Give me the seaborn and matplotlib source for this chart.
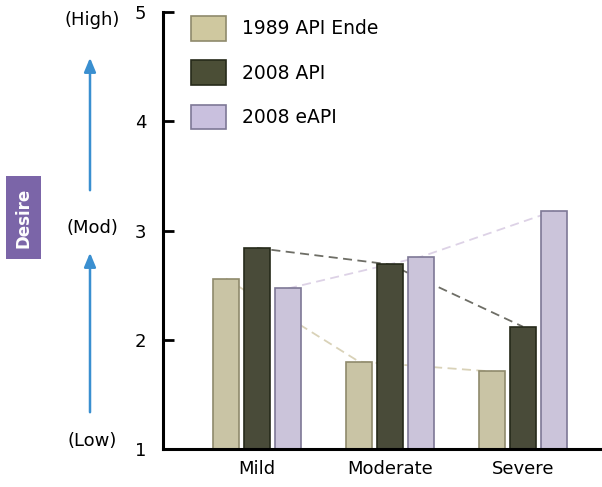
import matplotlib
matplotlib.use("Agg")
import matplotlib.pyplot as plt
from matplotlib.patches import FancyArrowPatch, Rectangle
import seaborn as sns
import pandas as pd

severity = ["Mild", "Moderate", "Severe"]
series = ["1989 API Ende", "2008 API", "2008 eAPI"]
api_1989 = [2.56, 1.80, 1.71]
api_2008 = [2.84, 2.69, 2.12]
eapi_2008 = [2.47, 2.76, 3.18]
y_ticks = [1, 2, 3, 4, 5]
level_labels = ["(Low)", "(Mod)", "(High)"]

bar_colors = ["#cfc89f", "#4b4e36", "#c9c0de"]
edge_colors = ["#8f8a6c", "#262a1a", "#7e7896"]
line_colors = ["#d9d2b8", "#6e6e66", "#ddd2e6"]

df = pd.DataFrame({
    "Severity": severity * 3,
    "Series": [s for s in series for _ in severity],
    "Desire": api_1989 + api_2008 + eapi_2008,
})

sns.set_style("white")
plt.rcParams["font.family"] = ["DejaVu Sans"]
plt.rcParams["text.color"] = "black"
plt.rcParams["xtick.color"] = "black"
plt.rcParams["ytick.color"] = "black"

fig = plt.figure(figsize=(6.02, 4.87), dpi=100)
ax = fig.add_axes([0.2708, 0.078, 0.726, 0.897])

sns.barplot(data=df, x="Severity", y="Desire", hue="Series",
            order=severity, hue_order=series, palette=bar_colors,
            width=0.70, gap=0.16, ax=ax, legend=False, zorder=2)

# outline each bar in a darker shade of its fill and link the tops of each series
for i, cont in enumerate(ax.containers):
    xs, ys = [], []
    for p in cont.patches:
        p.set_edgecolor(edge_colors[i])
        p.set_linewidth(1.2)
        xs.append(p.get_x() + p.get_width() / 2)
        ys.append(p.get_height())
    ax.plot(xs, ys, ls=(0, (5, 3)), color=line_colors[i], lw=1.3, zorder=1)

ax.set_ylim(1, 5)
ax.set_xlim(-0.707, 2.58)
ax.set_yticks(y_ticks)
ax.set_yticklabels([str(t) for t in y_ticks], fontsize=13)
ax.tick_params(axis="y", direction="in", length=8, width=2, pad=12, left=True)
ax.tick_params(axis="x", length=0, labelsize=13, pad=8)
ax.set_xlabel("")
ax.set_ylabel("")
for side in ["top", "right"]:
    ax.spines[side].set_visible(False)
for side in ["left", "bottom"]:
    ax.spines[side].set_linewidth(2.2)
    ax.spines[side].set_color("black")

handles = [Rectangle((0, 0), 1, 1, facecolor=c, edgecolor=e, lw=1.2)
           for c, e in zip(bar_colors, edge_colors)]
ax.legend(handles, series, loc="upper left", bbox_to_anchor=(0.025, 1.03),
          frameon=False, fontsize=13.5, handlelength=1.85, handleheight=1.65,
          labelspacing=1.05, handletextpad=0.9)

# qualitative level labels beside the numeric axis
for lab, ypx in zip(level_labels, [441, 228, 20]):
    fig.text(92 / 602, 1 - ypx / 487, lab, ha="center", va="center", fontsize=13)

arrow_x = 90 / 602
for y0, y1 in [(415, 250), (193, 55)]:
    fig.patches.append(FancyArrowPatch(
        (arrow_x, 1 - y0 / 487), (arrow_x, 1 - y1 / 487),
        transform=fig.transFigure, arrowstyle="-|>,head_length=0.6,head_width=0.25",
        mutation_scale=14, color="#3a8fd0", lw=1.8))

fig.patches.append(Rectangle((6 / 602, 1 - 259 / 487), 35 / 602, 83 / 487,
                             transform=fig.transFigure, facecolor="#7b65a8",
                             edgecolor="none"))
fig.text(23.5 / 602, 1 - 217.5 / 487, "Desire", rotation=90, ha="center",
         va="center", color="white", fontsize=12, fontweight="semibold")

fig.savefig("out.png", dpi=100)
